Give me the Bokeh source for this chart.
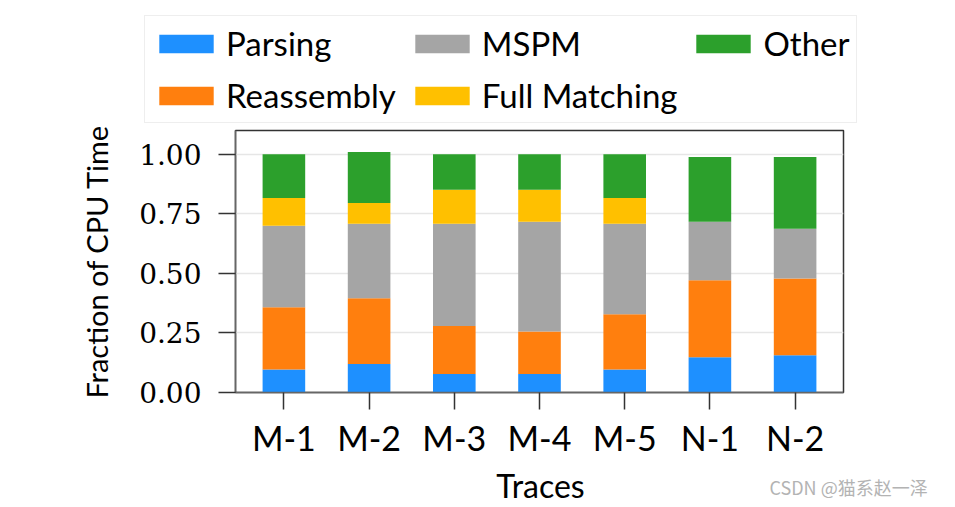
from bokeh.plotting import figure
from bokeh.layouts import column
from bokeh.models import (FactorRange, Range1d, FixedTicker, NumeralTickFormatter,
                          Legend, LegendItem, Label)
from bokeh.embed import file_html
from bokeh.resources import INLINE

# ---- data ----
traces = ["M-1", "M-2", "M-3", "M-4", "M-5", "N-1", "N-2"]
parsing = [0.097, 0.120, 0.078, 0.078, 0.097, 0.148, 0.156]
reassembly = [0.261, 0.276, 0.201, 0.178, 0.232, 0.323, 0.323]
mspm = [0.342, 0.312, 0.429, 0.461, 0.379, 0.246, 0.209]
full_matching = [0.117, 0.088, 0.143, 0.134, 0.109, 0.0, 0.0]
other = [0.183, 0.214, 0.149, 0.149, 0.183, 0.272, 0.301]

series_names = ["Parsing", "Reassembly", "MSPM", "Full Matching", "Other"]
series_colors = ["#1e90ff", "#ff7f0e", "#a5a5a5", "#ffc000", "#2ca02c"]
y_ticks = [0.0, 0.25, 0.5, 0.75, 1.0]
x_title = "Traces"
y_title = "Fraction of CPU Time"
watermark = "CSDN @猫系赵一泽"

data = {"trace": traces, "Parsing": parsing, "Reassembly": reassembly,
        "MSPM": mspm, "Full Matching": full_matching, "Other": other}

SANS = "Lato"
SERIF = "DejaVu Serif"
W = 955


def no_align(fig):
    if "frame_align" in fig.properties():
        fig.frame_align = False


# ---------- legend strip (top) ----------
leg = figure(width=W, height=125, output_backend="svg", toolbar_location=None,
             x_range=FactorRange(factors=traces), y_range=Range1d(5, 6),
             x_axis_type=None, y_axis_type=None,
             min_border_left=0, min_border_right=0, min_border_top=0, min_border_bottom=0)
leg.grid.visible = False
leg.outline_line_color = None
leg_renderers = leg.vbar_stack(series_names, x="trace", width=0.5, color=series_colors,
                               line_color=None, source=data)
items = [LegendItem(label=n, renderers=[r]) for n, r in zip(series_names, leg_renderers)]
legend = Legend(items=items, location=(144, 2), orientation="vertical", nrows=2,
                glyph_width=68, glyph_height=23, label_height=23,
                label_standoff=6, spacing=12, padding=7, margin=0,
                label_text_font=SANS, label_text_font_size="33px",
                label_text_color="black",
                border_line_color="#dddddd", border_line_width=1.5,
                background_fill_color="white", background_fill_alpha=1.0)
leg.add_layout(legend)
no_align(leg)

# ---------- main chart ----------
p = figure(width=W, height=336, output_backend="svg", toolbar_location=None,
           x_range=FactorRange(factors=traces, range_padding=0.068,
                               range_padding_units="absolute"),
           y_range=Range1d(0, 1.10),
           min_border_left=235, min_border_right=112,
           min_border_top=5, min_border_bottom=69)

p.vbar_stack(series_names, x="trace", width=0.5, color=series_colors,
             line_color=None, source=data)

p.yaxis.axis_label = y_title
for ax in (p.xaxis[0], p.yaxis[0]):
    ax.axis_label_text_font = SANS
    ax.axis_label_text_font_size = "29px"
    ax.axis_label_text_font_style = "normal"
    ax.axis_label_text_color = "black"
    ax.major_label_text_color = "black"
    ax.axis_line_color = "#666666"
    ax.axis_line_width = 1.5
    ax.major_tick_line_color = "#333333"
    ax.major_tick_line_width = 1.5
    ax.major_tick_out = 17
    ax.major_tick_in = 0
    ax.minor_tick_line_color = None

p.xaxis.major_label_text_font = SANS
p.xaxis.major_label_text_font_size = "34px"
p.xaxis.major_label_standoff = 7

p.yaxis.ticker = FixedTicker(ticks=y_ticks)
p.yaxis.formatter = NumeralTickFormatter(format="0.00")
p.yaxis.major_label_text_font = SERIF
p.yaxis.major_label_text_font_size = "28px"
p.yaxis.major_label_standoff = 17
p.yaxis.axis_label_standoff = 22

p.xgrid.grid_line_color = None
p.ygrid.grid_line_color = "#e6e6e6"
p.ygrid.grid_line_width = 1.5
p.ygrid.ticker = FixedTicker(ticks=y_ticks)

p.outline_line_color = "#333333"
p.outline_line_width = 1.5
p.background_fill_color = "white"
p.border_fill_color = "white"
no_align(p)

# ---------- bottom strip: x title + watermark ----------
bot = figure(width=W, height=44, output_backend="svg", toolbar_location=None,
             x_range=Range1d(0, W), y_range=Range1d(0, 44),
             x_axis_type=None, y_axis_type=None,
             min_border_left=0, min_border_right=0, min_border_top=0, min_border_bottom=0)
bot.grid.visible = False
bot.outline_line_color = None
bot.add_layout(Label(x=540, y=20, text=x_title, text_font=SANS, text_font_size="32px",
                     text_color="black", text_align="center", text_baseline="middle"))
bot.add_layout(Label(x=769, y=19, text=watermark, text_font="Noto Sans CJK SC",
                     text_font_size="18px", text_color="#b3b3b3",
                     text_align="left", text_baseline="middle"))
no_align(bot)

layout = column(leg, p, bot, spacing=0)
open("out.html", "w").write(file_html(layout, INLINE))
